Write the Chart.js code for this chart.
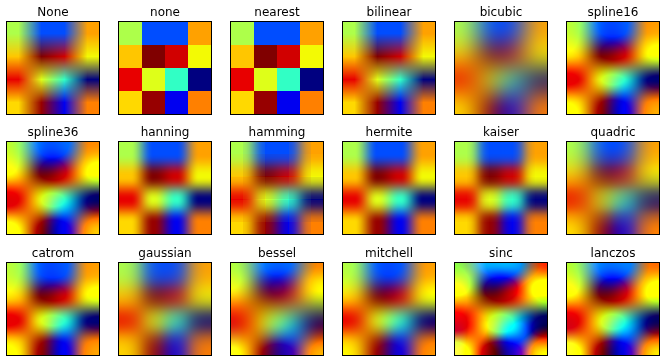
<!DOCTYPE html>
<html lang="en">
<head>
  <meta charset="UTF-8">
  <title>Interpolation methods</title>
  <script src="https://cdn.jsdelivr.net/npm/chart.js"></script>
  <style>
    html, body { margin: 0; padding: 0; background: #fff; }
    body { width: 669px; height: 364px; position: relative; overflow: hidden; }
    canvas { position: absolute; }
  </style>
</head>
<body>
  <script>
    // Panel titles, in reading order
    const methods = [
      'None', 'none', 'nearest', 'bilinear', 'bicubic', 'spline16',
      'spline36', 'hanning', 'hamming', 'hermite', 'kaiser', 'quadric',
      'catrom', 'gaussian', 'bessel', 'mitchell', 'sinc', 'lanczos'
    ];

    const row0 = [0.56, 0.20, 0.20, 0.74];
    const row1 = [0.70, 1.00, 0.93, 0.645];
    const row2 = [0.91, 0.62, 0.41, 0.00];
    const row3 = [0.68, 0.98, 0.097, 0.775];
    const rows = [row0, row1, row2, row3];

    const colLeft = [0, 112, 224, 336, 448, 560];
    const rowTop = [0, 120, 241];

    // jet colormap
    const jetR = [[0, 0], [0.35, 0], [0.66, 1], [0.89, 1], [1, 0.5]];
    const jetG = [[0, 0], [0.125, 0], [0.375, 1], [0.64, 1], [0.91, 0], [1, 0]];
    const jetB = [[0, 0.5], [0.11, 1], [0.34, 1], [0.65, 0], [1, 0]];

    function ramp(stops, v) {
      for (let i = 1; i < stops.length; i++) {
        if (v <= stops[i][0]) {
          const t = (v - stops[i - 1][0]) / (stops[i][0] - stops[i - 1][0]);
          return 255 * (stops[i - 1][1] + t * (stops[i][1] - stops[i - 1][1]));
        }
      }
      return 255 * stops[stops.length - 1][1];
    }
    const jet = v => [ramp(jetR, v), ramp(jetG, v), ramp(jetB, v)];

    function besselI0(x) {
      let sum = 1, term = 1;
      for (let k = 1; k < 40; k++) {
        term *= (x / (2 * k)) * (x / (2 * k));
        sum += term;
      }
      return sum;
    }
    function besselJ1(x) {
      let sum = 0;
      const n = 200;
      for (let i = 0; i < n; i++) {
        const t = Math.PI * (i + 0.5) / n;
        sum += Math.cos(t - x * Math.sin(t));
      }
      return sum / n;
    }
    const sinc = x => x === 0 ? 1 : Math.sin(Math.PI * x) / (Math.PI * x);
    const pow3 = x => x <= 0 ? 0 : x * x * x;

    function mitchell(x) {
      const b = 1 / 3, c = 1 / 3;
      if (x < 1) return ((12 - 9 * b - 6 * c) * x * x * x + (-18 + 12 * b + 6 * c) * x * x + (6 - 2 * b)) / 6;
      return ((-b - 6 * c) * x * x * x + (6 * b + 30 * c) * x * x + (-12 * b - 48 * c) * x + (8 * b + 24 * c)) / 6;
    }

    // Same filter shapes as the agg resampler: [radius, weight(distance)]
    const linear = [1, x => 1 - x];
    const kernels = {
      None: linear,
      bilinear: linear,
      bicubic: [2, x => (pow3(x + 2) - 4 * pow3(x + 1) + 6 * pow3(x) - 4 * pow3(x - 1)) / 6],
      spline16: [2, x => x < 1
        ? ((x - 9 / 5) * x - 1 / 5) * x + 1
        : ((-1 / 3 * (x - 1) + 4 / 5) * (x - 1) - 7 / 15) * (x - 1)],
      spline36: [3, x => x < 1
        ? ((13 / 11 * x - 453 / 209) * x - 3 / 209) * x + 1
        : x < 2
          ? ((-6 / 11 * (x - 1) + 270 / 209) * (x - 1) - 156 / 209) * (x - 1)
          : ((1 / 11 * (x - 2) - 45 / 209) * (x - 2) + 26 / 209) * (x - 2)],
      hanning: [1, x => 0.5 + 0.5 * Math.cos(Math.PI * x)],
      hamming: [1, x => 0.54 + 0.46 * Math.cos(Math.PI * x)],
      hermite: [1, x => (2 * x - 3) * x * x + 1],
      kaiser: [1, x => besselI0(6.33 * Math.sqrt(Math.max(0, 1 - x * x))) / besselI0(6.33)],
      quadric: [1.5, x => x < 0.5 ? 0.75 - x * x : 0.5 * (x - 1.5) * (x - 1.5)],
      catrom: [2, x => x < 1
        ? 0.5 * (2 + x * x * (-5 + x * 3))
        : 0.5 * (4 + x * (-8 + x * (5 - x)))],
      gaussian: [2, x => Math.exp(-2 * x * x) * Math.sqrt(2 / Math.PI)],
      bessel: [3.2383, x => x === 0 ? Math.PI / 4 : besselJ1(Math.PI * x) / (2 * x)],
      mitchell: [2, mitchell],
      sinc: [4, x => sinc(x)],
      lanczos: [4, x => sinc(x) * sinc(x / 4)]
    };

    // edge cells mirror, like the resampler's reflect wrap mode
    function reflect(i, n) {
      const m = ((i % (2 * n)) + 2 * n) % (2 * n);
      return m < n ? m : 2 * n - m - 1;
    }

    // weights of the source cells for one axis position
    function weightsAt(pos, n, kernel) {
      if (!kernel) {
        return [[reflect(Math.round(pos), n), 1]];
      }
      const [radius, fn] = kernel;
      const out = [];
      let total = 0;
      for (let i = Math.ceil(pos - radius); i <= Math.floor(pos + radius); i++) {
        const d = Math.abs(pos - i);
        if (d >= radius) continue;
        const w = fn(d);
        out.push([reflect(i, n), w]);
        total += w;
      }
      out.forEach(e => { e[1] /= total; });
      return out;
    }

    const imagePlugin = {
      id: 'cellImage',
      beforeDatasetsDraw(chart, args, opts) {
        const { ctx, chartArea: area, scales } = chart;
        const w = Math.round(area.right - area.left);
        const h = Math.round(area.bottom - area.top);
        const off = document.createElement('canvas');
        off.width = w;
        off.height = h;
        const offCtx = off.getContext('2d');
        const img = offCtx.createImageData(w, h);
        const pts = chart.data.datasets[0].data;
        const rgb = [];
        pts.forEach(p => {
          rgb[p.y] = rgb[p.y] || [];
          rgb[p.y][p.x] = jet(p.v);
        });
        const xw = [], yw = [];
        for (let i = 0; i < w; i++) xw.push(weightsAt(scales.x.getValueForPixel(area.left + i + 0.5), 4, opts.kernel));
        for (let j = 0; j < h; j++) yw.push(weightsAt(scales.y.getValueForPixel(area.top + j + 0.5), 4, opts.kernel));
        for (let j = 0; j < h; j++) {
          for (let i = 0; i < w; i++) {
            const c = [0, 0, 0];
            yw[j].forEach(([cy, wy]) => {
              xw[i].forEach(([cx, wx]) => {
                const s = rgb[cy][cx];
                c[0] += s[0] * wx * wy;
                c[1] += s[1] * wx * wy;
                c[2] += s[2] * wx * wy;
              });
            });
            const k = (j * w + i) * 4;
            img.data[k] = c[0];
            img.data[k + 1] = c[1];
            img.data[k + 2] = c[2];
            img.data[k + 3] = 255;
          }
        }
        offCtx.putImageData(img, 0, 0);
        ctx.drawImage(off, area.left, area.top);
      },
      afterDraw(chart) {
        const { ctx, chartArea: area } = chart;
        ctx.save();
        ctx.strokeStyle = '#000';
        ctx.lineWidth = 1;
        ctx.strokeRect(area.left - 0.5, area.top - 0.5, area.right - area.left + 1, area.bottom - area.top + 1);
        ctx.restore();
      }
    };

    const points = [];
    rows.forEach((row, y) => row.forEach((v, x) => points.push({ x, y, v })));

    methods.forEach((name, idx) => {
      const canvas = document.createElement('canvas');
      canvas.width = 112;
      canvas.height = 120;
      canvas.style.left = colLeft[idx % 6] + 'px';
      canvas.style.top = rowTop[Math.floor(idx / 6)] + 'px';
      document.body.appendChild(canvas);

      new Chart(canvas, {
        type: 'scatter',
        data: { datasets: [{ data: points, pointRadius: 0 }] },
        options: {
          responsive: false,
          animation: false,
          layout: { padding: { left: 7, right: 13, top: 0, bottom: 6 } },
          scales: {
            x: { type: 'linear', min: -0.5, max: 3.5, display: false },
            y: { type: 'linear', min: -0.5, max: 3.5, reverse: true, display: false }
          },
          plugins: {
            legend: { display: false },
            tooltip: { enabled: false },
            title: {
              display: true,
              text: name,
              color: '#000',
              font: { family: 'DejaVu Sans', size: 12, weight: 'normal', lineHeight: 1.2 },
              padding: { top: 6, bottom: 1.6 }
            },
            cellImage: { kernel: kernels[name] || null }
          }
        },
        plugins: [imagePlugin]
      });
    });
  </script>
</body>
</html>
